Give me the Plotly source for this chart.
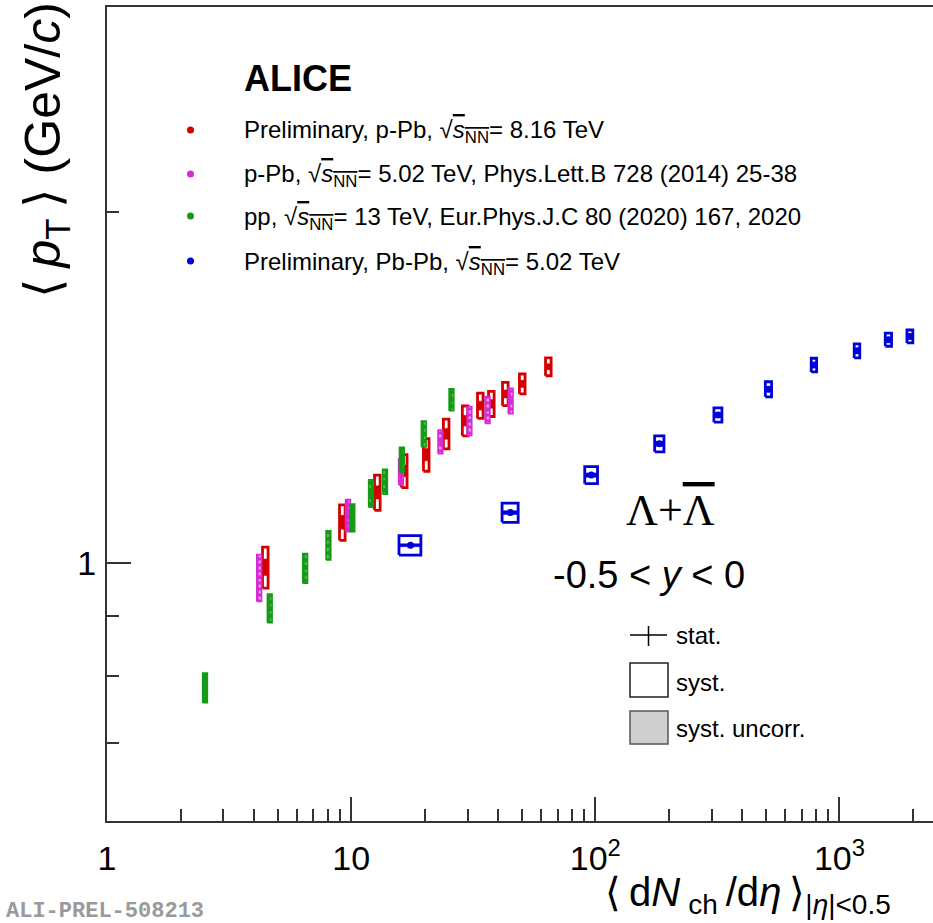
import numpy as np
import plotly.graph_objects as go

# ---------------- data ----------------
# p-Pb, sqrt(sNN) = 8.16 TeV (preliminary)
ppb8_dndeta = [4.45, 9.2, 12.8, 16.5, 20.3, 24.5, 29.3, 33.8, 37.5, 42.8, 50.2, 64.2]
ppb8_mpt = [0.991, 1.083, 1.149, 1.199, 1.238, 1.290, 1.324, 1.364, 1.369, 1.396, 1.424, 1.473]
ppb8_syst = [0.040, 0.038, 0.040, 0.039, 0.040, 0.038, 0.039, 0.034, 0.034, 0.032, 0.028, 0.026]
ppb8_syst_unc = [0.016, 0.015, 0.015, 0.014, 0.015, 0.014, 0.014, 0.012, 0.012, 0.011, 0.010, 0.009]

# p-Pb, sqrt(sNN) = 5.02 TeV
ppb5_dndeta = [4.2, 9.7, 16.0, 23.2, 30.5, 36.2, 45.0]
ppb5_mpt = [0.971, 1.098, 1.197, 1.270, 1.324, 1.353, 1.377]
ppb5_syst = [0.045, 0.035, 0.031, 0.030, 0.038, 0.036, 0.035]

# pp, sqrt(s) = 13 TeV
pp13_dndeta = [2.52, 4.64, 6.48, 8.07, 10.11, 12.06, 13.76, 16.12, 19.83, 25.75]
pp13_mpt = [0.781, 0.914, 0.989, 1.035, 1.093, 1.147, 1.174, 1.226, 1.290, 1.380]
pp13_syst = [0.023, 0.026, 0.029, 0.030, 0.030, 0.031, 0.029, 0.030, 0.033, 0.030]

# Pb-Pb, sqrt(sNN) = 5.02 TeV (preliminary)
pbpb_dndeta = [17.5, 44.9, 96.3, 183, 318, 512, 786, 1180, 1587, 1943]
pbpb_dndeta_err = [1.8, 3.4, 5.8, 8, 12, 15, 20, 31, 47, 54]
pbpb_mpt = [1.035, 1.104, 1.189, 1.265, 1.339, 1.409, 1.478, 1.520, 1.554, 1.564]
pbpb_syst = [0.020, 0.021, 0.020, 0.020, 0.019, 0.021, 0.020, 0.021, 0.020, 0.020]
pbpb_syst_unc = [0.003, 0.004, 0.005, 0.006, 0.006, 0.007, 0.007, 0.007, 0.007, 0.007]

x_ticks = [1, 10, 100, 1000]
x_ticktext = ["1", "10", "10<sup>2</sup>", "10<sup>3</sup>"]
x_minor = [k * 10 ** d for d in range(4) for k in range(2, 10)]
y_ticks = [1]
y_ticktext = ["1"]
y_minor = [0.7, 0.8, 0.9, 2]

SQRT_S = "√<span style='text-decoration:overline'><i>s</i><sub>NN</sub></span>"
legend_labels = [
    "Preliminary, p-Pb, " + SQRT_S + "= 8.16 TeV",
    "p-Pb, " + SQRT_S + "= 5.02 TeV, Phys.Lett.B 728 (2014) 25-38",
    "pp, " + SQRT_S + "= 13 TeV, Eur.Phys.J.C 80 (2020) 167, 2020",
    "Preliminary, Pb-Pb, " + SQRT_S + "= 5.02 TeV",
]

RED = "#d40000"
MAG = "#d52ad5"
GRN = "#159a15"
BLU = "#0000d8"
legend_colors = [RED, MAG, GRN, BLU]

# ---------------- layout geometry ----------------
W, H = 933, 923
ML, MR, MT, MB = 107, 0, 7, 102
PW, PH = W - ML - MR, H - MT - MB
XR = [0, 3.383]
YR = [np.log10(0.6), np.log10(3.0)]


def px(xp):
    return (xp - ML) / PW


def py(yp):
    return (H - MB - yp) / PH


def boxes(x, y, dy, xlo, xhi):
    """Closed rectangles (one per point) separated by None, in data units."""
    xs, ys = [], []
    for xi, yi, d, a, b in zip(x, y, dy, xlo, xhi):
        xs += [a, b, b, a, a, None]
        ys += [yi - d, yi - d, yi + d, yi + d, yi - d, None]
    return xs, ys


def rel_width(x, half_px):
    f = 10 ** (half_px * (XR[1] - XR[0]) / PW)
    x = np.asarray(x, float)
    return list(x / f), list(x * f)


fig = go.Figure()

# p-Pb 8.16 TeV: open syst. boxes + uncorrelated part
lo, hi = rel_width(ppb8_dndeta, 2.8)
bx, by = boxes(ppb8_dndeta, ppb8_mpt, ppb8_syst_unc, lo, hi)
fig.add_trace(go.Scatter(x=bx, y=by, mode="lines", fill="toself", fillcolor=RED,
                         line=dict(color=RED, width=0.5), hoverinfo="skip", showlegend=False))
bx, by = boxes(ppb8_dndeta, ppb8_mpt, ppb8_syst, lo, hi)
fig.add_trace(go.Scatter(x=bx, y=by, mode="lines", fill="none",
                         line=dict(color=RED, width=2.8), hoverinfo="skip", showlegend=False))
fig.add_trace(go.Scatter(x=ppb8_dndeta, y=ppb8_mpt, mode="markers",
                         marker=dict(color=RED, size=5), showlegend=False))

# p-Pb 5.02 TeV
lo, hi = rel_width(ppb5_dndeta, 2.4)
bx, by = boxes(ppb5_dndeta, ppb5_mpt, ppb5_syst, lo, hi)
fig.add_trace(go.Scatter(x=bx, y=by, mode="lines", fill="toself", fillcolor=MAG,
                         fillpattern=dict(shape=".", fgcolor="white", size=6, solidity=0.25,
                                          fillmode="overlay"),
                         line=dict(color=MAG, width=1.5), hoverinfo="skip", showlegend=False))
fig.add_trace(go.Scatter(x=ppb5_dndeta, y=ppb5_mpt, mode="markers",
                         marker=dict(color=MAG, size=4), showlegend=False))

# pp 13 TeV
lo, hi = rel_width(pp13_dndeta, 2.4)
bx, by = boxes(pp13_dndeta, pp13_mpt, pp13_syst, lo, hi)
fig.add_trace(go.Scatter(x=bx, y=by, mode="lines", fill="toself", fillcolor=GRN,
                         fillpattern=dict(shape=".", fgcolor="#9fd89f", size=7, solidity=0.2,
                                          fillmode="overlay"),
                         line=dict(color=GRN, width=1.5), hoverinfo="skip", showlegend=False))
fig.add_trace(go.Scatter(x=pp13_dndeta, y=pp13_mpt, mode="markers",
                         marker=dict(color=GRN, size=4), showlegend=False))

# Pb-Pb 5.02 TeV: box width from the dNch/deta uncertainty
pb_lo = [a - e for a, e in zip(pbpb_dndeta, pbpb_dndeta_err)]
pb_hi = [a + e for a, e in zip(pbpb_dndeta, pbpb_dndeta_err)]
bx, by = boxes(pbpb_dndeta, pbpb_mpt, pbpb_syst_unc, pb_lo, pb_hi)
fig.add_trace(go.Scatter(x=bx, y=by, mode="lines", fill="toself", fillcolor=BLU,
                         line=dict(color=BLU, width=0.5), hoverinfo="skip", showlegend=False))
bx, by = boxes(pbpb_dndeta, pbpb_mpt, pbpb_syst, pb_lo, pb_hi)
fig.add_trace(go.Scatter(x=bx, y=by, mode="lines", fill="none",
                         line=dict(color=BLU, width=2.8), hoverinfo="skip", showlegend=False))
fig.add_trace(go.Scatter(x=pbpb_dndeta, y=pbpb_mpt, mode="markers",
                         marker=dict(color=BLU, size=7), showlegend=False))

# ---------------- text and legend ----------------
SANS = "Liberation Sans, Arial, Helvetica, sans-serif"
TS = "\u2009"  # thin space
ann = []
ann.append(dict(text="<b>ALICE</b>", x=px(242), y=py(79), xanchor="left", yanchor="middle",
                font=dict(size=36, family=SANS)))
rows_y = [132, 176, 218, 263]
shapes = []
for lab, col, yy in zip(legend_labels, legend_colors, rows_y):
    ann.append(dict(text=lab, x=px(242), y=py(yy), xanchor="left", yanchor="middle",
                    font=dict(size=24, family=SANS)))
    shapes.append(dict(type="circle", xref="paper", yref="paper",
                       x0=px(187), x1=px(194), y0=py(yy + 1.5), y1=py(yy - 5.5),
                       fillcolor=col, line=dict(width=0)))

ann.append(dict(text="Λ+<span style='text-decoration:overline'>Λ</span>", x=px(670), y=py(510),
                xanchor="center", yanchor="middle",
                font=dict(size=44, family="Liberation Serif, Times New Roman, serif")))
ann.append(dict(text="-0.5 &lt; <i>y</i> &lt; 0", x=px(649), y=py(575), xanchor="center",
                yanchor="middle", font=dict(size=38, family=SANS)))

for lab, yy in zip(["stat.", "syst.", "syst. uncorr."], [635, 682, 728]):
    ann.append(dict(text=lab, x=px(674), y=py(yy), xanchor="left", yanchor="middle",
                    font=dict(size=24, family=SANS)))
shapes += [
    dict(type="line", xref="paper", yref="paper", x0=px(630), x1=px(667), y0=py(635), y1=py(635),
         line=dict(color="black", width=1.5)),
    dict(type="line", xref="paper", yref="paper", x0=px(648.5), x1=px(648.5), y0=py(626), y1=py(646),
         line=dict(color="black", width=1.5)),
    dict(type="rect", xref="paper", yref="paper", x0=px(630), x1=px(668), y0=py(697), y1=py(663),
         fillcolor="white", line=dict(color="#222", width=1.5)),
    dict(type="rect", xref="paper", yref="paper", x0=px(630), x1=px(668), y0=py(744), y1=py(711),
         fillcolor="#cfcfcf", line=dict(color="#555", width=1.5)),
]

# axis titles
ann.append(dict(text="⟨" + TS + "<i>p</i><sub>T</sub>" + TS + "⟩ (GeV/<i>c</i>)", textangle=-90,
                x=px(46), y=py(1), xanchor="center", yanchor="top",
                font=dict(size=50, family=SANS)))
ann.append(dict(text="⟨" + TS + "d<i>N</i>" + TS + "<sub>ch</sub>" + TS + "/d<i>η</i>" + TS + "⟩"
                + "<sub>|<i>η</i>|&lt;0.5</sub>",
                x=px(893), y=py(895), xanchor="right", yanchor="middle",
                font=dict(size=40, family=SANS)))
ann.append(dict(text="<b>ALI-PREL-508213</b>", x=px(4), y=py(911), xanchor="left",
                yanchor="middle", font=dict(size=22, family="Liberation Mono, Courier New, monospace",
                                            color="#9a9a9a")))
for a in ann:
    a.setdefault("showarrow", False)
    a.setdefault("xref", "paper")
    a.setdefault("yref", "paper")

AX = "#333333"
fig.update_layout(
    width=W, height=H,
    margin=dict(l=ML, r=MR, t=MT, b=MB),
    paper_bgcolor="white", plot_bgcolor="white",
    font=dict(family=SANS, color="black"),
    showlegend=False,
    annotations=ann, shapes=shapes,
    xaxis=dict(type="log", range=XR, showgrid=False, zeroline=False,
               showline=True, linecolor=AX, linewidth=2, mirror=True,
               ticks="inside", ticklen=24, tickwidth=1.5, tickcolor=AX,
               tickmode="array", tickvals=x_ticks, ticktext=x_ticktext,
               tickfont=dict(size=34, family=SANS, color="black"), ticklabelstandoff=6,
               minor=dict(tickmode="array", tickvals=x_minor, ticks="inside", ticklen=12,
                          tickwidth=1.5, tickcolor=AX, showgrid=False)),
    yaxis=dict(type="log", range=YR, showgrid=False, zeroline=False,
               showline=True, linecolor=AX, linewidth=2, mirror=False,
               ticks="inside", ticklen=24, tickwidth=1.5, tickcolor=AX,
               tickmode="array", tickvals=y_ticks, ticktext=y_ticktext,
               tickfont=dict(size=34, family=SANS, color="black"), ticklabelstandoff=2,
               minor=dict(tickmode="array", tickvals=y_minor, ticks="inside", ticklen=12,
                          tickwidth=1.5, tickcolor=AX, showgrid=False)),
)

fig.write_html("out.html")
